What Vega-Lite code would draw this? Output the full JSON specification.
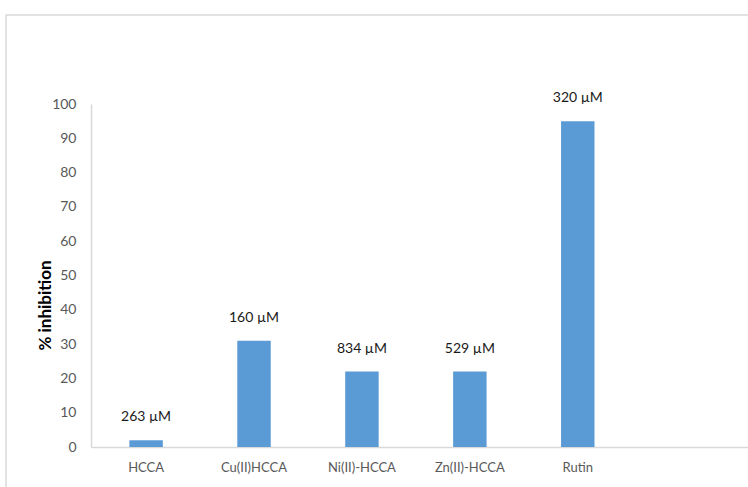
{
  "$schema": "https://vega.github.io/schema/vega-lite/v6.json",
  "width": 750,
  "height": 480,
  "autosize": {"type": "none"},
  "padding": {"left": 6, "top": 15, "right": -8, "bottom": -8},
  "background": "white",
  "config": {
    "view": {"stroke": "#d9d9d9", "strokeWidth": 1.5},
    "font": "Lato"
  },
  "data": {
    "values": [
      {"compound": "HCCA", "inhibition": 2, "ic50": "263 µM"},
      {"compound": "Cu(II)HCCA", "inhibition": 31, "ic50": "160 µM"},
      {"compound": "Ni(II)-HCCA", "inhibition": 22, "ic50": "834  µM"},
      {"compound": "Zn(II)-HCCA", "inhibition": 22, "ic50": "529 µM"},
      {"compound": "Rutin", "inhibition": 95, "ic50": "320 µM"}
    ]
  },
  "encoding": {
    "x": {
      "field": "compound",
      "type": "nominal",
      "sort": null,
      "scale": {"range": [85, 742], "paddingInner": 0.69, "paddingOuter": 0.889, "align": 0.2},
      "axis": {
        "title": null,
        "offset": -48,
        "labelAngle": 0,
        "labelPadding": 14,
        "labelFontSize": 13,
        "labelColor": "#595959",
        "ticks": false,
        "domainColor": "#d9d9d9",
        "domainWidth": 1.5
      }
    },
    "y": {
      "field": "inhibition",
      "type": "quantitative",
      "scale": {"domain": [0, 100], "range": [432, 89], "nice": false},
      "axis": {
        "title": "% inhibition",
        "titleFontSize": 17,
        "titleFontWeight": "bold",
        "titleColor": "#000000",
        "titleX": -46,
        "titleY": 290,
        "titleBaseline": "middle",
        "titleAngle": -90,
        "values": [0, 10, 20, 30, 40, 50, 60, 70, 80, 90, 100],
        "offset": -85,
        "grid": false,
        "ticks": false,
        "labelPadding": 15,
        "labelFontSize": 14,
        "labelColor": "#595959",
        "domainColor": "#d9d9d9",
        "domainWidth": 1.5
      }
    }
  },
  "layer": [
    {"mark": {"type": "bar", "color": "#5b9bd5"}},
    {
      "mark": {"type": "text", "dy": -23, "fontSize": 14, "color": "#1a1a1a", "baseline": "middle"},
      "encoding": {"text": {"field": "ic50"}}
    }
  ]
}
